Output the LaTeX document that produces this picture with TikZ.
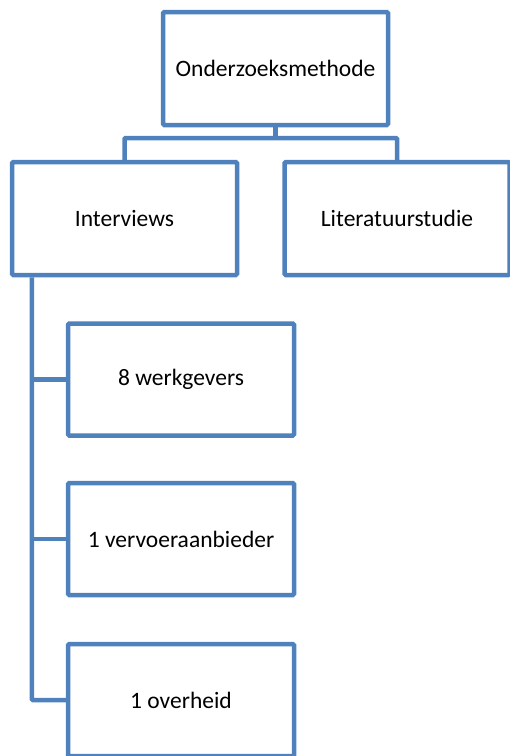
\documentclass[tikz,border=0pt]{standalone}
\usepackage{fontspec}
\setmainfont{Carlito}
\definecolor{boxblue}{HTML}{4F81BD}
\begin{document}
\begin{tikzpicture}[x=1pt,y=-1pt,
  box/.style={draw=boxblue, line width=4.5pt, rounded corners=1.2pt, fill=white,
    minimum width=225pt, minimum height=113pt, inner sep=0pt,
    font=\fontsize{23.5}{28}\selectfont, text=black},
  child/.style={box, minimum width=226pt, minimum height=112pt},
  link/.style={draw=boxblue, line width=4.5pt, rounded corners=1pt}]
\useasboundingbox (0,0) rectangle (510,756);

% hierarchy boxes
\node[box] (top) at (275.5,68.5) {Onderzoeksmethode};
\node[box] (inter) at (124.5,218.5) {Interviews};
\node[box] (lit) at (397,218.5) {Literatuurstudie};

\node[child] (c1) at (181,379.5) {8 werkgevers};
\node[child] (c2) at (181,539) {1 vervoeraanbieder};
\node[child] (c3) at (181,700) {1 overheid};

% top-level connectors
\coordinate (hub) at (275.5,138);
\draw[link] (top.south) -- (hub);
\draw[link] (inter.north) |- (hub) -| (lit.north);

% spine under Interviews
\coordinate (spinetop) at ([xshift=22pt]inter.south west);
\draw[link] (spinetop) |- (c3.west);
\draw[link] (spinetop |- c1.west) -- (c1.west);
\draw[link] (spinetop |- c2.west) -- (c2.west);
\end{tikzpicture}
\end{document}
